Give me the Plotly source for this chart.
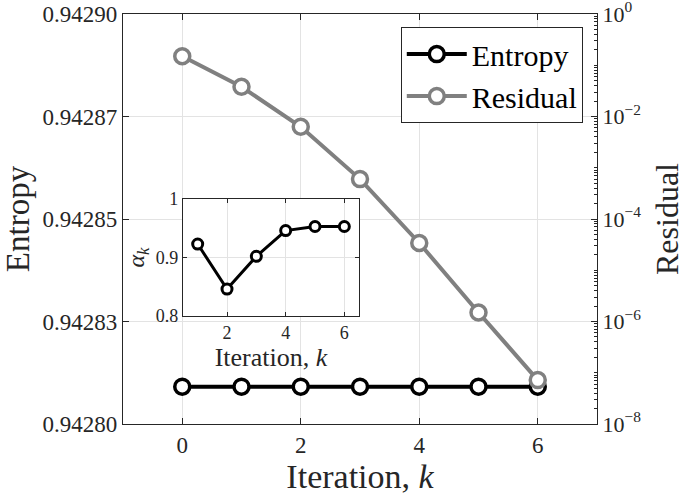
import plotly.graph_objects as go

iterations = [0, 1, 2, 3, 4, 5, 6]
entropy = [0.9428091, 0.9428091, 0.9428091, 0.9428091, 0.9428091, 0.9428091, 0.9428091]
residual = [1.5e-1, 3.8e-2, 6.3e-3, 6.0e-4, 3.4e-5, 1.5e-6, 7.2e-8]

inset_k = [1, 2, 3, 4, 5, 6]
alpha_k = [0.923, 0.846, 0.902, 0.946, 0.953, 0.953]

left_tickvals = [0.9428, 0.942825, 0.94285, 0.942875, 0.9429]
left_ticktext = ["0.94280", "0.94283", "0.94285", "0.94287", "0.94290"]
right_tickvals = [1e-8, 1e-6, 1e-4, 1e-2, 1]
right_ticktext = ["10<sup>−8</sup>", "10<sup>−6</sup>", "10<sup>−4</sup>", "10<sup>−2</sup>", "10<sup>0</sup>"]

FONT = "Liberation Serif"
AX = "#262626"
GRID = "#e3e3e3"

fig = go.Figure()
fig.add_trace(go.Scatter(
    x=iterations, y=entropy, name="Entropy", mode="lines+markers",
    line=dict(color="black", width=4),
    marker=dict(symbol="circle", size=15, color="white", line=dict(color="black", width=3.5)),
    xaxis="x", yaxis="y"))
fig.add_trace(go.Scatter(
    x=iterations, y=residual, name="Residual", mode="lines+markers",
    line=dict(color="#808080", width=4),
    marker=dict(symbol="circle", size=15, color="white", line=dict(color="#808080", width=3.5)),
    xaxis="x", yaxis="y2"))
fig.add_trace(go.Scatter(
    x=inset_k, y=alpha_k, mode="lines+markers", showlegend=False,
    line=dict(color="black", width=3),
    marker=dict(symbol="circle", size=10, color="white", line=dict(color="black", width=3)),
    xaxis="x2", yaxis="y3"))

fig.update_layout(
    width=685, height=496,
    margin=dict(l=123, r=88, t=14, b=72),
    paper_bgcolor="white", plot_bgcolor="white",
    font=dict(family=FONT, color=AX, size=22),
    showlegend=True,
    legend=dict(x=0.97, y=0.968, xanchor="right", yanchor="top",
                bgcolor="white", bordercolor=AX, borderwidth=1,
                font=dict(size=30, family=FONT, color="black"),
                itemwidth=60, tracegroupgap=0),
    xaxis=dict(domain=[0, 1], range=[-1, 7], tickvals=[0, 2, 4, 6], automargin=False,
               showgrid=True, gridcolor=GRID, zeroline=False,
               showline=True, linecolor=AX, linewidth=1.2, mirror="ticks",
               ticks="inside", ticklen=6, tickcolor=AX,
               tickfont=dict(size=23), ticklabeloverflow="allow",
               title=dict(text="Iteration, <i>k</i>", font=dict(size=34), standoff=4)),
    yaxis=dict(domain=[0, 1], range=[0.9428, 0.9429], tickvals=left_tickvals, ticktext=left_ticktext,
               automargin=False,
               showgrid=True, gridcolor=GRID, zeroline=False,
               showline=True, linecolor=AX, linewidth=1.2,
               ticks="inside", ticklen=6, tickcolor=AX,
               tickfont=dict(size=23), ticklabeloverflow="allow",
               title=dict(text="Entropy", font=dict(size=33), standoff=13)),
    yaxis2=dict(type="log", range=[-8, 0], overlaying="y", side="right", automargin=False,
                tickvals=right_tickvals, ticktext=right_ticktext,
                showgrid=False, zeroline=False,
                showline=True, linecolor=AX, linewidth=1.2,
                ticks="inside", ticklen=6, tickcolor=AX,
                minor=dict(ticks="inside", ticklen=3, tickcolor=AX, dtick="D1", showgrid=False),
                tickfont=dict(size=22), ticklabeloverflow="allow",
                title=dict(text="Residual", font=dict(size=32), standoff=18)),
    xaxis2=dict(domain=[0.1266, 0.4979], anchor="y3", range=[0.5, 6.5], tickvals=[2, 4, 6],
                automargin=False,
                showgrid=True, gridcolor=GRID, zeroline=False,
                showline=True, linecolor=AX, linewidth=1.2, mirror="ticks",
                ticks="inside", ticklen=4, tickcolor=AX,
                tickfont=dict(size=18),
                title=dict(text="Iteration, <i>k</i>", font=dict(size=26), standoff=4)),
    yaxis3=dict(domain=[0.2634, 0.5488], anchor="x2", range=[0.8, 1], tickvals=[0.8, 0.9, 1],
                ticktext=["0.8", "0.9", "1"], automargin=False,
                showgrid=True, gridcolor=GRID, zeroline=False,
                showline=True, linecolor=AX, linewidth=1.2, mirror="ticks",
                ticks="inside", ticklen=4, tickcolor=AX,
                tickfont=dict(size=18),
                title=dict(text="<i>α</i><sub><i>k</i></sub>", font=dict(size=24), standoff=4)),
)

fig.write_html("out.html", config={"displayModeBar": False},
               post_script="document.body.style.margin='0';")
